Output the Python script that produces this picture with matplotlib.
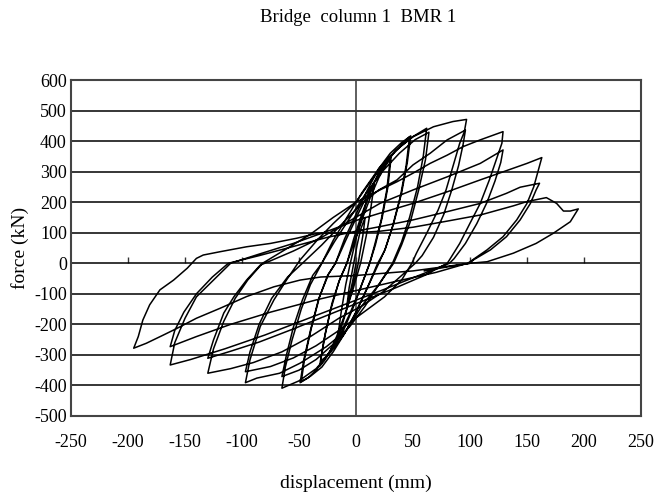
import numpy as np
import matplotlib.pyplot as plt

plt.rcParams['font.family'] = ['Liberation Serif', 'DejaVu Serif']

# hysteresis record, one list of (displacement mm, force kN) per amplitude level
level_8 = [(0, 0), (-3, -60), (-6, -110), (-8, -140), (-6, -80), (-3, -20), (-2, 0),
           (1, 60), (4, 110), (8, 150), (6, 90), (3, 25), (2, 0)]
level_16 = [(-3, -80), (-8, -150), (-12, -200), (-16, -240), (-13, -160), (-9, -70), (-5, 0),
            (0, 80), (5, 150), (10, 210), (16, 260), (13, 180), (9, 90), (4, 0)]
level_31 = [(-3, -90), (-10, -170), (-17, -240), (-23, -290), (-28, -320), (-32, -338),
            (-28, -250), (-22, -150), (-15, -60), (-8, 0), (-2, 80), (5, 160), (12, 230),
            (19, 290), (25, 330), (31, 354), (28, 250), (23, 150), (17, 60), (12, 0),
            (5, -70), (-3, -150), (-11, -220), (-19, -270), (-26, -305), (-31, -320),
            (-27, -230), (-21, -130), (-14, -50), (-8, 0), (-1, 75), (6, 150), (13, 220),
            (20, 280), (26, 320), (30, 340), (27, 240), (22, 140), (16, 55), (12, 0)]
level_48 = [(3, -90), (-6, -170), (-15, -240), (-25, -300), (-35, -350), (-42, -375), (-49, -391),
            (-46, -320), (-40, -220), (-33, -120), (-25, -40), (-18, 0), (-10, 80), (0, 160),
            (10, 240), (20, 310), (30, 360), (40, 395), (48, 417), (45, 330), (40, 230),
            (33, 130), (26, 50), (20, 0), (10, -80), (0, -160), (-10, -230), (-20, -290),
            (-30, -340), (-40, -370), (-48, -387), (-45, -310), (-39, -210), (-32, -110),
            (-24, -35), (-18, 0), (-9, 75), (1, 155), (12, 240), (23, 310), (34, 365),
            (41, 392), (47, 414), (44, 320), (39, 220), (32, 120), (25, 40), (19, 0)]
level_64 = [(10, -80), (0, -160), (-10, -230), (-22, -290), (-35, -345), (-50, -385), (-65, -409),
            (-62, -340), (-56, -250), (-48, -150), (-40, -70), (-30, 0), (-20, 75), (-8, 150),
            (5, 230), (20, 310), (35, 370), (50, 415), (62, 442), (59, 350), (54, 250),
            (47, 150), (40, 70), (32, 0), (20, -70), (8, -140), (-5, -205), (-20, -265),
            (-35, -315), (-50, -350), (-65, -371), (-61, -300), (-55, -210), (-47, -120),
            (-38, -40), (-30, 0), (-19, 70), (-6, 145), (8, 225), (23, 300), (38, 360),
            (52, 405), (64, 429), (61, 340), (55, 240), (48, 140), (40, 60), (33, 0)]
level_97 = [(20, -70), (5, -140), (-8, -218), (-26, -273), (-49, -327), (-67, -360), (-87, -376),
            (-97, -391), (-93, -316), (-84, -207), (-72, -120), (-61, -55), (-49, 11),
            (-34, 76), (-20, 130), (0, 200), (15, 280), (27, 338), (39, 382), (50, 414),
            (68, 447), (85, 464), (97, 471), (95, 430), (91, 393), (85, 316), (79, 240),
            (72, 174), (62, 98), (53, 33), (49, 0), (40, -55), (25, -110), (5, -165),
            (-15, -220), (-35, -270), (-55, -310), (-75, -338), (-97, -355), (-93, -290),
            (-85, -200), (-74, -115), (-60, -45), (-47, 0), (-30, 60), (-12, 130), (5, 195),
            (20, 240), (36, 273), (50, 322), (65, 360), (80, 404), (96, 436), (94, 390),
            (90, 320), (84, 240), (77, 160), (68, 85), (58, 25), (52, 0)]
level_130 = [(40, -40), (25, -90), (5, -140), (-15, -180), (-40, -240), (-65, -290), (-90, -325),
             (-110, -345), (-130, -360), (-125, -280), (-116, -190), (-106, -115), (-95, -55),
             (-82, 0), (-62, 45), (-40, 95), (-20, 150), (0, 200), (21, 240), (36, 267),
             (50, 295), (65, 327), (80, 354), (94, 382), (109, 404), (129, 431), (128, 393),
             (123, 338), (117, 273), (109, 196), (100, 131), (91, 65), (82, 11), (80, 0),
             (60, -40), (35, -80), (5, -125), (-25, -170), (-55, -215), (-85, -258),
             (-110, -288), (-130, -311), (-125, -251), (-116, -163), (-107, -109), (-96, -55),
             (-84, -6), (-80, 0), (-55, 40), (-30, 85), (-5, 140), (21, 196), (50, 240),
             (80, 283), (109, 327), (129, 371), (127, 330), (122, 270), (115, 200), (106, 130),
             (96, 65), (86, 15), (82, 0)]
level_163 = [(55, -40), (25, -85), (-10, -135), (-45, -185), (-80, -235), (-115, -280),
             (-145, -315), (-163, -333), (-159, -260), (-150, -180), (-140, -110), (-125, -55),
             (-110, 0), (-85, 30), (-55, 65), (-25, 105), (0, 140), (21, 164), (50, 196),
             (80, 234), (109, 273), (138, 311), (150, 327), (163, 346), (160, 305), (156, 251),
             (150, 196), (141, 142), (129, 87), (115, 44), (100, 5), (98, 0), (70, -30),
             (40, -55), (5, -85), (-35, -120), (-75, -160), (-110, -200), (-140, -240),
             (-163, -273), (-159, -220), (-151, -160), (-140, -100), (-126, -45), (-112, 0),
             (-85, 25), (-55, 55), (-25, 85), (0, 105), (21, 120), (50, 142), (80, 169),
             (109, 196), (132, 229), (144, 249), (161, 262), (158, 240), (153, 196),
             (144, 142), (132, 87), (118, 44), (103, 11), (100, 0)]
level_195 = [(50, -25), (0, -40), (-31, -45), (-49, -55), (-72, -77), (-96, -109), (-119, -147),
             (-140, -180), (-157, -213), (-169, -235), (-184, -262), (-195, -278), (-191, -240),
             (-187, -186), (-181, -136), (-172, -87), (-160, -55), (-148, -16), (-140, 16),
             (-134, 27), (-119, 38), (-96, 54), (-75, 65), (-52, 82), (-34, 98), (0, 100),
             (21, 105), (50, 118), (80, 138), (109, 158), (138, 188), (150, 202), (167, 215),
             (176, 196), (182, 171), (188, 171), (195, 178), (188, 136), (173, 98), (158, 65),
             (138, 33), (115, 5), (100, 0), (80, -12), (60, -25)]

levels = [level_8, level_16, level_31, level_48, level_64, level_97, level_130, level_163, level_195]
path = np.array([p for lvl in levels for p in lvl], dtype=float)
disp, force = path[:, 0], path[:, 1]

x_ticks = np.arange(-250, 251, 50)
y_ticks = np.arange(-500, 601, 100)
xmin, xmax = -250, 250
ymin, ymax = -500, 600

fig = plt.figure(figsize=(6.57, 4.93), dpi=100)
ax = fig.add_axes([0.1081, 0.1562, 0.8675, 0.6815])

ax.set_xlim(xmin, xmax)
ax.set_ylim(ymin, ymax)
ax.set_xticks(x_ticks)
ax.set_yticks(y_ticks)
ax.tick_params(axis='x', length=0, pad=13, labelsize=13)
ax.tick_params(axis='y', length=0, pad=3, labelsize=13)
ax.set_xticklabels([str(v) for v in x_ticks])
ax.set_yticklabels([str(v) for v in y_ticks])

ax.grid(axis='y', color='black', linewidth=1.1)
ax.axvline(0, color='#333333', linewidth=1.1)
for s in ax.spines.values():
    s.set_color('#444444')
    s.set_linewidth(1.5)

# category axis crossing at zero force, ticks pointing up
loc0 = (0 - ymin) / (ymax - ymin)
sec = ax.secondary_xaxis(loc0)
sec.set_xticks(x_ticks[1:-1])
sec.tick_params(direction='in', length=4.5, width=1, color='#333333', labelbottom=False)
sec.spines['bottom'].set_visible(False)

ax.plot(disp, force, color='black', linewidth=1.1, zorder=3)

ax.set_xlabel('displacement (mm)', fontsize=14, labelpad=17)
ax.set_ylabel('force (kN)', fontsize=14, labelpad=4)
fig.text(0.545, 0.965, 'Bridge  column 1  BMR 1', ha='center', va='center', fontsize=13.5)

fig.savefig('out.png', dpi=100)
